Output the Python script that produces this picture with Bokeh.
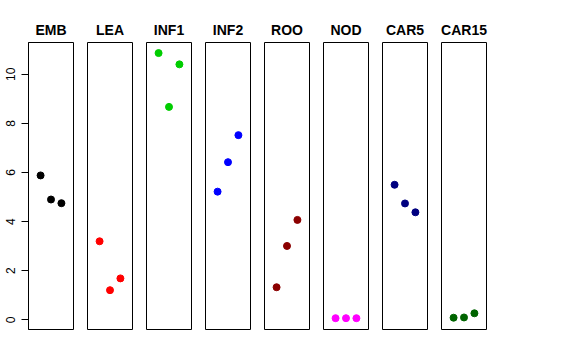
from bokeh.plotting import figure
from bokeh.layouts import row
from bokeh.models import Range1d, FixedTicker
from bokeh.embed import file_html
from bokeh.resources import INLINE

tissues = ["EMB", "LEA", "INF1", "INF2", "ROO", "NOD", "CAR5", "CAR15"]
colors = ["black", "red", "#00CD00", "blue", "#8B0000", "magenta", "#000080", "#006400"]
xpos = [1, 2, 3]
values = {
    "EMB": [5.88, 4.90, 4.75],
    "LEA": [3.20, 1.21, 1.69],
    "INF1": [10.86, 8.67, 10.40],
    "INF2": [5.22, 6.42, 7.52],
    "ROO": [1.33, 3.01, 4.07],
    "NOD": [0.07, 0.07, 0.07],
    "CAR5": [5.50, 4.74, 4.38],
    "CAR15": [0.09, 0.10, 0.27],
}
yticks = [0, 2, 4, 6, 8, 10]

FRAME_W = 45
FRAME_H = 287
TOP = 42
BOTTOM = 10

figs = []
for i, (t, c) in enumerate(zip(tissues, colors)):
    left = 28 if i == 0 else 7
    right = 7
    p = figure(
        width=left + FRAME_W + right,
        height=TOP + FRAME_H + BOTTOM,
        x_range=Range1d(-0.16, 4.16),
        y_range=Range1d(-0.39, 11.29),
        output_backend="svg",
        toolbar_location=None,
        title=t,
        min_border_left=left,
        min_border_right=right,
        min_border_top=TOP,
        min_border_bottom=BOTTOM,
    )
    p.title.align = "center"
    p.title.text_font = "Liberation Sans"
    p.title.text_font_style = "bold"
    p.title.text_font_size = "14px"
    p.title.text_color = "black"
    p.xaxis.visible = False
    p.xgrid.visible = False
    p.ygrid.visible = False
    p.outline_line_color = "black"
    p.outline_line_width = 1
    p.outline_line_alpha = 1
    if i == 0:
        ax = p.yaxis[0]
        ax.ticker = FixedTicker(ticks=yticks)
        ax.major_label_orientation = "vertical"
        ax.major_tick_out = 7
        ax.major_tick_in = 0
        ax.minor_tick_out = 0
        ax.minor_tick_in = 0
        ax.major_label_standoff = 6
        ax.major_label_text_font = "Liberation Sans"
        ax.major_label_text_font_size = "12px"
        ax.major_label_text_color = "black"
        ax.axis_line_color = "black"
        ax.major_tick_line_color = "black"
    else:
        p.yaxis.visible = False
    p.scatter(xpos, values[t], size=7, color=c, line_color=c)
    figs.append(p)

layout = row(*figs, spacing=0)
open("out.html", "w").write(file_html(layout, INLINE))
